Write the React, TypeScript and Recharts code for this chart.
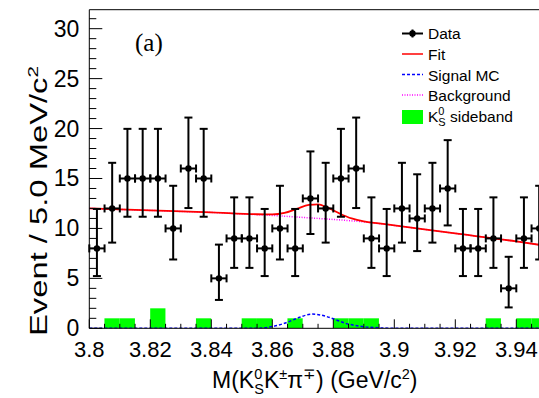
import {
  ComposedChart,
  Bar,
  Line,
  Scatter,
  ErrorBar,
  XAxis,
  YAxis,
  ReferenceLine,
} from 'recharts';

// bin centres (5 MeV bins from 3.80 to 3.95 GeV)
const binCenters = [
  3.8025, 3.8075, 3.8125, 3.8175, 3.8225, 3.8275, 3.8325, 3.8375, 3.8425, 3.8475,
  3.8525, 3.8575, 3.8625, 3.8675, 3.8725, 3.8775, 3.8825, 3.8875, 3.8925, 3.8975,
  3.9025, 3.9075, 3.9125, 3.9175, 3.9225, 3.9275, 3.9325, 3.9375, 3.9425, 3.9475,
];
const counts = [8, 12, 15, 15, 15, 10, 16, 15, 5, 9, 9, 8, 10, 8, 13, 12, 15, 16, 9, 8, 12, 11, 12, 14, 8, 8, 9, 4, 9, 10];
const errLow = [
  2.77, 3.42, 3.83, 3.83, 3.83, 3.11, 3.96, 3.83, 2.16, 2.95, 2.95, 2.77, 3.11, 2.77, 3.56,
  3.42, 3.83, 3.96, 2.95, 2.77, 3.42, 3.27, 3.42, 3.7, 2.77, 2.77, 2.95, 1.91, 2.95, 3.11,
];
const errHigh = [
  3.95, 4.57, 4.97, 4.97, 4.97, 4.27, 5.1, 4.97, 3.38, 4.11, 4.11, 3.95, 4.27, 3.95, 4.71,
  4.57, 4.97, 5.1, 4.11, 3.95, 4.57, 4.42, 4.57, 4.84, 3.95, 3.95, 4.11, 3.16, 4.11, 4.27,
];
const sideband = [0, 1, 1, 0, 2, 0, 0, 1, 0, 0, 1, 1, 0, 1, 0, 0, 1, 1, 1, 0, 0, 0, 0, 0, 0, 0, 1, 0, 1, 1];

// curves
const fitX = [3.8, 3.82, 3.84, 3.855, 3.86, 3.864, 3.868, 3.872, 3.875, 3.878, 3.882, 3.886, 3.89, 3.895, 3.9, 3.92, 3.94, 3.95];
const fitY = [12.0, 11.8, 11.6, 11.42, 11.4, 11.55, 11.95, 12.35, 12.4, 12.1, 11.5, 11.0, 10.7, 10.5, 10.3, 9.5, 8.7, 8.25];
const bgX = [3.8, 3.81, 3.82, 3.83, 3.84, 3.85, 3.86, 3.87, 3.88, 3.89, 3.9, 3.91, 3.92, 3.93, 3.94, 3.95];
const bgY = [12.0, 11.9, 11.8, 11.7, 11.6, 11.45, 11.3, 11.1, 10.9, 10.65, 10.3, 9.9, 9.5, 9.1, 8.7, 8.25];
const sigX = [3.8, 3.855, 3.859, 3.864, 3.869, 3.873, 3.877, 3.88, 3.884, 3.889, 3.895, 3.9, 3.95];
const sigY = [0, 0, 0.12, 0.5, 1.1, 1.42, 1.25, 0.95, 0.5, 0.2, 0.05, 0, 0];

const xTicks = [
  3.8, 3.805, 3.81, 3.815, 3.82, 3.825, 3.83, 3.835, 3.84, 3.845, 3.85, 3.855, 3.86, 3.865, 3.87, 3.875,
  3.88, 3.885, 3.89, 3.895, 3.9, 3.905, 3.91, 3.915, 3.92, 3.925, 3.93, 3.935, 3.94, 3.945, 3.95,
];
const xLabels = [3.8, 3.82, 3.84, 3.86, 3.88, 3.9, 3.92, 3.94];
const yTicks = [0, 1, 2, 3, 4, 5, 6, 7, 8, 9, 10, 11, 12, 13, 14, 15, 16, 17, 18, 19, 20, 21, 22, 23, 24, 25, 26, 27, 28, 29, 30, 31];
const yLabels = [0, 5, 10, 15, 20, 25, 30];

const bins = binCenters.map((x, i) => ({
  x,
  y: counts[i],
  sb: sideband[i],
  ey: [errLow[i], errHigh[i]],
  ex: 0.0025,
}));
const fitData = fitX.map((x, i) => ({ x, v: fitY[i] }));
const bgData = bgX.map((x, i) => ({ x, v: bgY[i] }));
const sigData = sigX.map((x, i) => ({ x, v: sigY[i] }));

const FONT = '"Liberation Sans", Arial, Helvetica, sans-serif';
const BIN_PX = 15.25; // drawn width of one 5 MeV bin

const XTick = (props: any) => {
  const { x, y, payload } = props;
  const v = payload.value;
  const major = xLabels.some((l) => Math.abs(l - v) < 1e-6);
  return (
    <g>
      <line x1={x} x2={x} y1={y} y2={y - (major ? 9 : 4.5)} stroke="#000" strokeWidth={1} />
      {major && (
        <text x={x} y={y + 28.5} textAnchor="middle" fontSize={22} fontFamily={FONT} fill="#000">
          {String(Number(v.toFixed(2)))}
        </text>
      )}
    </g>
  );
};

const YTick = (props: any) => {
  const { x, y, payload } = props;
  const v = payload.value;
  const major = yLabels.includes(v);
  return (
    <g>
      <line x1={x} x2={x + (major ? 13 : 7)} y1={y} y2={y} stroke="#000" strokeWidth={1} />
      {major && (
        <text x={x - 10} y={y + 8} textAnchor="end" fontSize={23} fontFamily={FONT} fill="#000">
          {v}
        </text>
      )}
    </g>
  );
};

// sideband histogram bin, full bin width around the bar centre
const BinRect = (props: any) => {
  const { x, y, width, height } = props;
  if (!height || height <= 0) return null;
  const cx = x + width / 2;
  return <rect x={cx - BIN_PX / 2} y={y} width={BIN_PX} height={height} fill="#00ff00" />;
};

const Dot = (props: any) => <circle cx={props.cx} cy={props.cy} r={3.2} fill="#000" />;

function Overlay() {
  const lx1 = 402;
  const lx2 = 423;
  const tx = 428;
  return (
    <svg
      width={539}
      height={398}
      style={{ position: 'absolute', left: 0, top: 0, pointerEvents: 'none' }}
    >
      <text x={135} y={51} fontSize={25} fontFamily='"Liberation Serif", "Times New Roman", serif' fill="#000">
        (a)
      </text>

      {/* legend */}
      <g fontFamily={FONT} fontSize={15.5} fill="#000">
        <line x1={lx1} x2={lx2} y1={33.5} y2={33.5} stroke="#000" strokeWidth={2} />
        <line x1={412.5} x2={412.5} y1={29.5} y2={37.5} stroke="#000" strokeWidth={2} />
        <circle cx={412.5} cy={33.5} r={3.2} fill="#000" />
        <text x={tx} y={39.3}>Data</text>

        <line x1={lx1} x2={lx2} y1={54} y2={54} stroke="#ff0000" strokeWidth={1.5} />
        <text x={tx} y={60}>Fit</text>

        <line x1={lx1} x2={lx2} y1={74.5} y2={74.5} stroke="#0000ff" strokeWidth={1.5} strokeDasharray="3 2" />
        <text x={tx} y={80.5}>Signal MC</text>

        <line x1={lx1} x2={lx2} y1={95} y2={95} stroke="#ff00ff" strokeWidth={1.5} strokeDasharray="1 1.5" />
        <text x={tx} y={101}>Background</text>

        <rect x={lx1} y={110} width={lx2 - lx1} height={14} fill="#00ff00" />
        <text x={tx} y={121.7}>
          K<tspan fontSize={11} dy={-7}>0</tspan>
          <tspan fontSize={11} dx={-6.1} dy={11}>S</tspan>
          <tspan dy={-4}> sideband</tspan>
        </text>
      </g>

      {/* axis titles */}
      <text x={212} y={388} fontSize={23} fontFamily={FONT} fill="#000">
        M(K<tspan fontSize={14.5} dy={-9}>0</tspan>
        <tspan fontSize={14.5} dx={-8} dy={15}>S</tspan>
        <tspan dy={-6}>K</tspan>
        <tspan fontSize={14.5} dy={-9}>±</tspan>
        <tspan dy={9}>π</tspan>
        <tspan fontSize={14.5} dy={-9}>∓</tspan>
        <tspan dy={9}>) (GeV/c</tspan>
        <tspan fontSize={14.5} dy={-9}>2</tspan>
        <tspan dy={9}>)</tspan>
      </text>
      <text
        transform="rotate(-90)"
        x={-201}
        y={47}
        textAnchor="middle"
        fontSize={23}
        fontFamily={FONT}
        fill="#000"
        textLength={270}
        lengthAdjust="spacingAndGlyphs"
      >
        Event / 5.0 MeV/c<tspan fontSize={14.5} dy={-9}>2</tspan>
      </text>
    </svg>
  );
}

export default function App() {
  return (
    <div
      style={{
        position: 'absolute',
        left: 0,
        top: 0,
        width: 539,
        height: 398,
        overflow: 'hidden',
        background: '#fff',
      }}
    >
      <ComposedChart
        width={570}
        height={398}
        data={bins}
        margin={{ top: 9.7, right: 23.2, left: 0, bottom: 9.7 }}
      >
        <XAxis
          dataKey="x"
          type="number"
          domain={[3.8, 3.95]}
          allowDataOverflow
          ticks={xTicks}
          interval={0}
          tick={<XTick />}
          tickLine={false}
          tickSize={0}
          tickMargin={0}
          height={60}
          axisLine={{ stroke: '#000', strokeWidth: 1 }}
        />
        <YAxis
          type="number"
          domain={[0, 31.9]}
          allowDataOverflow
          ticks={yTicks}
          interval={0}
          tick={<YTick />}
          tickLine={false}
          tickSize={0}
          tickMargin={0}
          width={89.3}
          axisLine={{ stroke: '#000', strokeWidth: 1 }}
        />
        <ReferenceLine y={31.9} stroke="#000" strokeWidth={1} />
        <Bar dataKey="sb" fill="#00ff00" shape={<BinRect />} isAnimationActive={false} />
        <Line
          data={bgData}
          dataKey="v"
          type="monotone"
          stroke="#ff00ff"
          strokeWidth={1.5}
          strokeDasharray="1 1.5"
          dot={false}
          activeDot={false}
          isAnimationActive={false}
        />
        <Line
          data={fitData}
          dataKey="v"
          type="monotone"
          stroke="#ff0000"
          strokeWidth={1.8}
          dot={false}
          activeDot={false}
          isAnimationActive={false}
        />
        <Line
          data={sigData}
          dataKey="v"
          type="monotone"
          stroke="#0000ff"
          strokeWidth={1.5}
          strokeDasharray="3 2"
          dot={false}
          activeDot={false}
          isAnimationActive={false}
        />
        <Scatter data={bins} dataKey="y" shape={<Dot />} isAnimationActive={false}>
          <ErrorBar dataKey="ey" direction="y" width={4} stroke="#000" strokeWidth={2} />
          <ErrorBar dataKey="ex" direction="x" width={4} stroke="#000" strokeWidth={2} />
        </Scatter>
      </ComposedChart>
      <Overlay />
    </div>
  );
}
